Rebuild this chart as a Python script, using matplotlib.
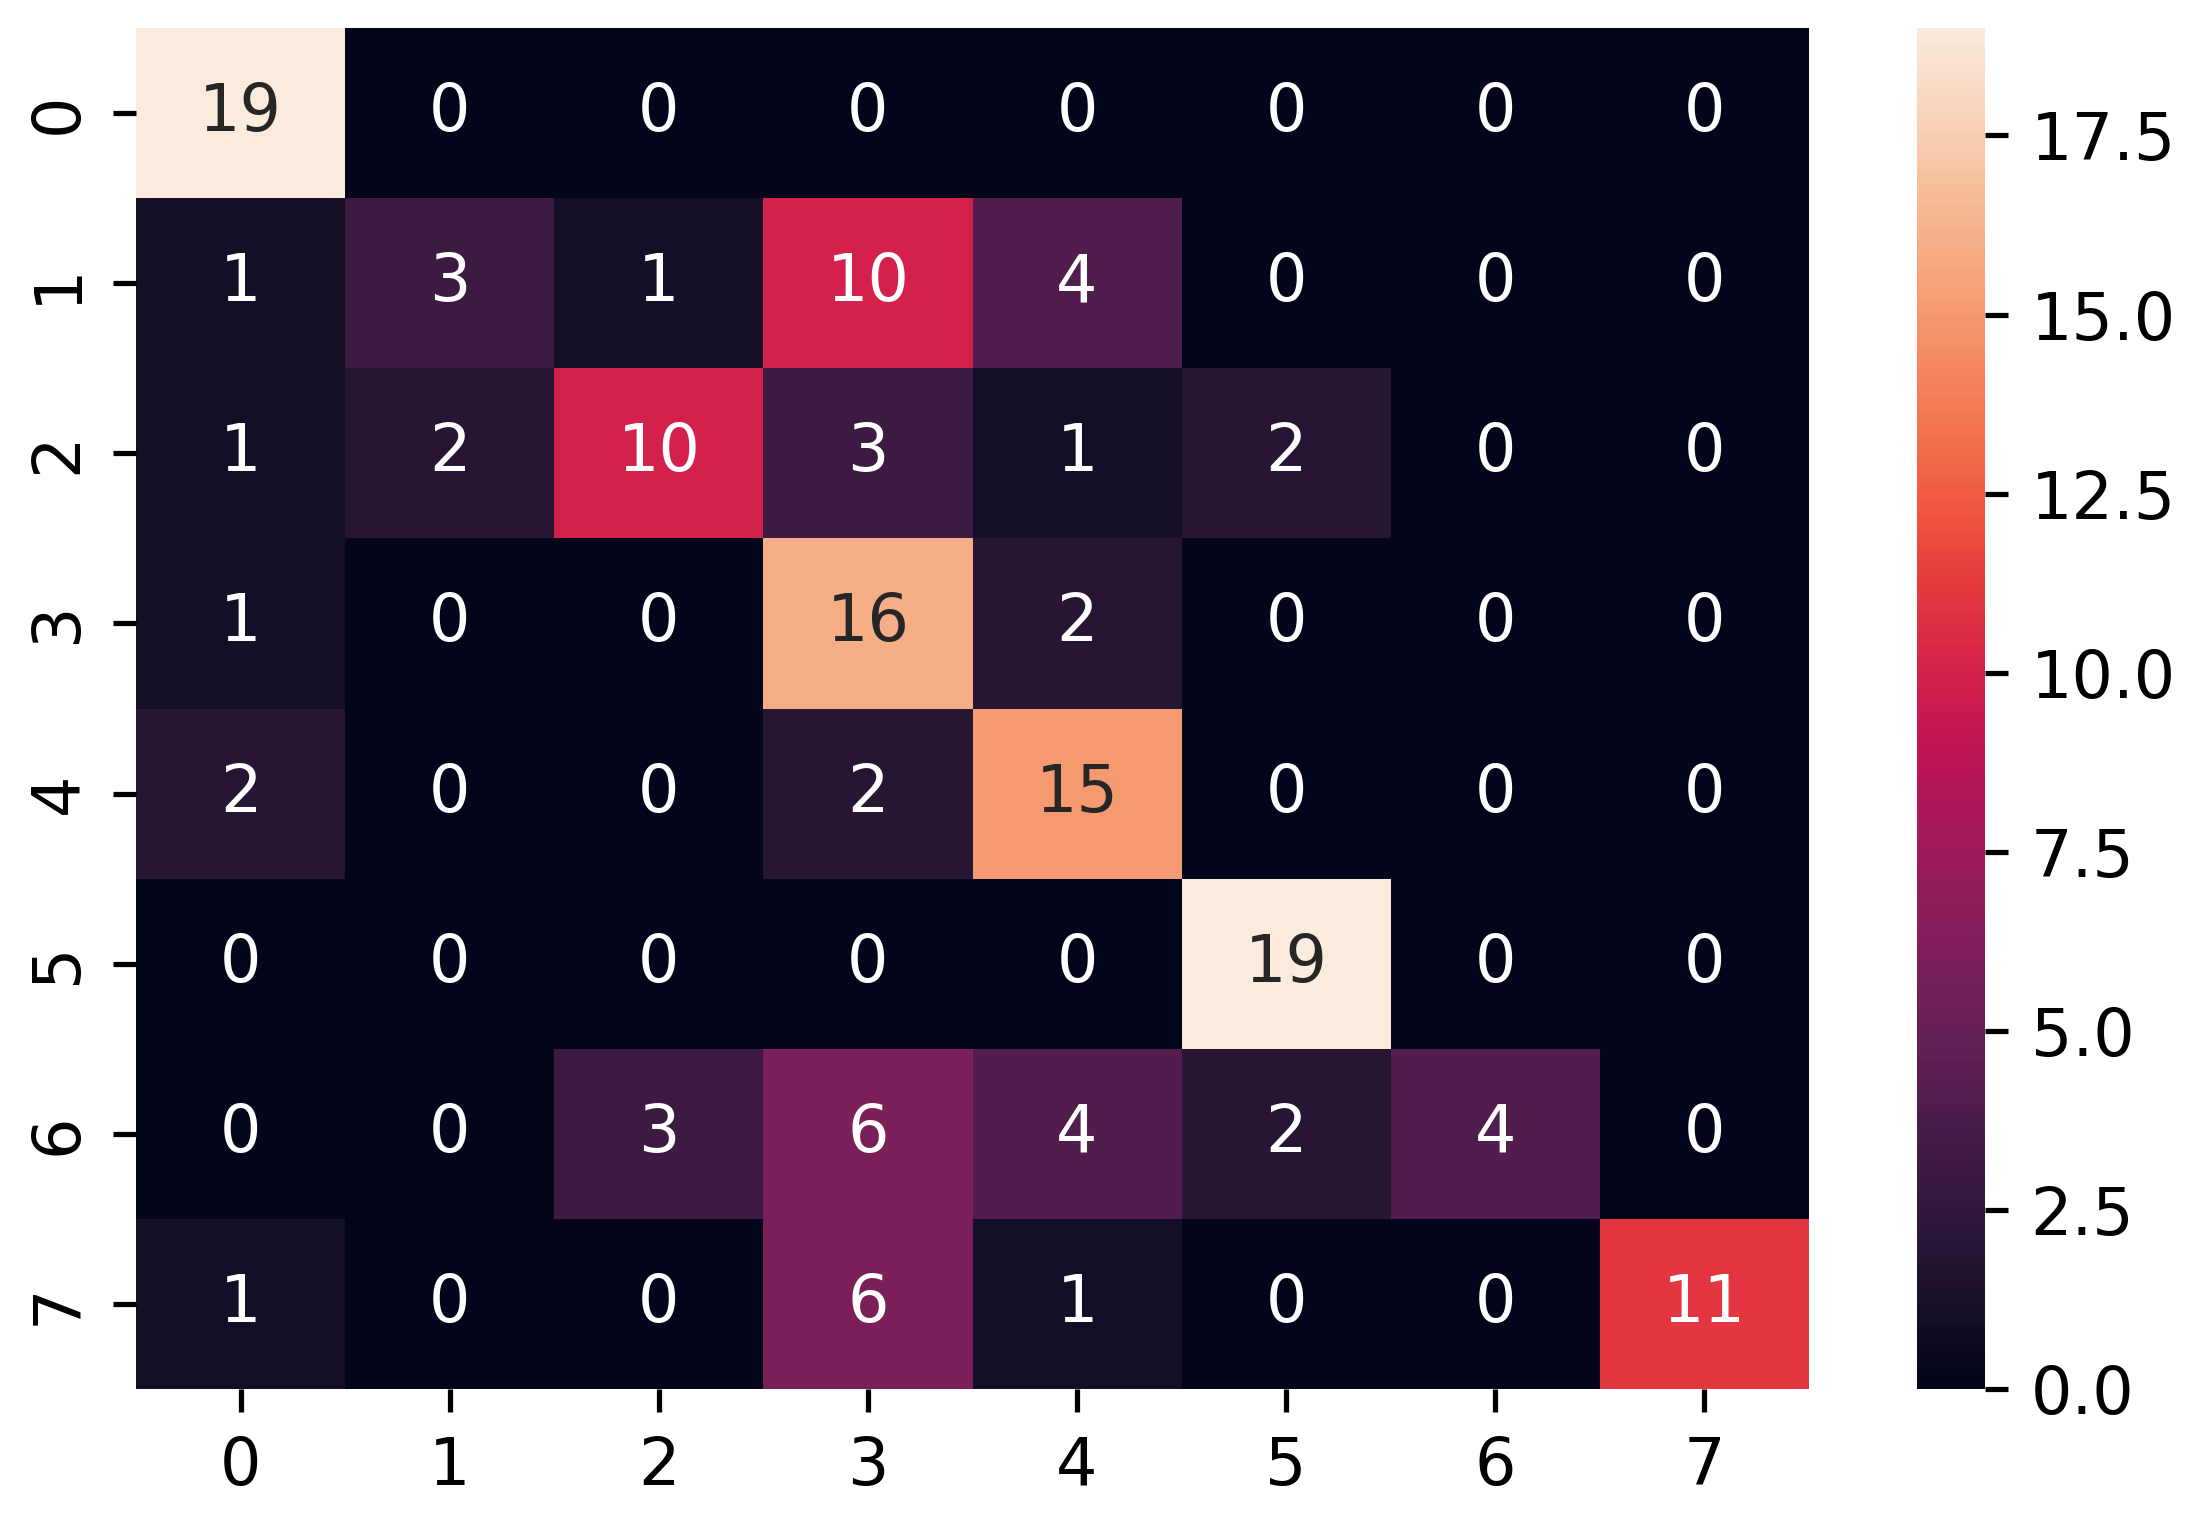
import matplotlib
matplotlib.use("Agg")
import matplotlib.pyplot as plt
import seaborn as sns
import numpy as np

# confusion matrix values, rows = true, cols = predicted
labels = [0, 1, 2, 3, 4, 5, 6, 7]
row0 = [19, 0, 0, 0, 0, 0, 0, 0]
row1 = [1, 3, 1, 10, 4, 0, 0, 0]
row2 = [1, 2, 10, 3, 1, 2, 0, 0]
row3 = [1, 0, 0, 16, 2, 0, 0, 0]
row4 = [2, 0, 0, 2, 15, 0, 0, 0]
row5 = [0, 0, 0, 0, 0, 19, 0, 0]
row6 = [0, 0, 3, 6, 4, 2, 4, 0]
row7 = [1, 0, 0, 6, 1, 0, 0, 11]

cm = np.array([row0, row1, row2, row3, row4, row5, row6, row7])

dpi = 470
fig = plt.figure(figsize=(2185 / dpi, 1519 / dpi), dpi=dpi)
W, H = 2185, 1519
ax = fig.add_axes([136 / W, (H - 1389) / H, (1809 - 136) / W, (1389 - 28) / H])
cax = fig.add_axes([1917 / W, (H - 1389) / H, (1985 - 1917) / W, (1389 - 28) / H])

sns.heatmap(cm, annot=True, fmt="d", ax=ax, cbar_ax=cax,
            xticklabels=labels, yticklabels=labels)

fig.savefig("out.png", dpi=dpi)
